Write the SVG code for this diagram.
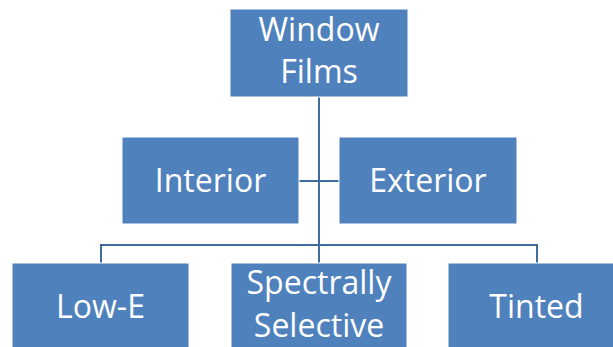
<svg xmlns="http://www.w3.org/2000/svg" width="613" height="347" viewBox="0 0 613 347">
  <style>
    .box { fill: #4F81BD; stroke: #ffffff; stroke-width: 1; }
    .lbl { fill: #ffffff; font-family: "Open Sans", "Noto Sans", sans-serif; font-size: 32px; text-anchor: middle; }
    .wire { fill: none; stroke: #3F6C9F; stroke-width: 2; }
  </style>
  <rect width="613" height="347" fill="#ffffff"/>

  <!-- connectors -->
  <g id="connectors">
    <path class="wire" d="M319 97 V263"/>
    <path class="wire" d="M299 181 H339"/>
    <path class="wire" d="M101 263 V245 H537 V263"/>
  </g>

  <g id="window-films">
    <rect class="box" x="230" y="9" width="178" height="88"/>
    <text class="lbl" x="319" y="41">Window</text>
    <text class="lbl" x="319" y="83">Films</text>
  </g>

  <g id="interior">
    <rect class="box" x="122" y="137" width="177" height="87"/>
    <text class="lbl" x="210.5" y="192">Interior</text>
  </g>

  <g id="exterior">
    <rect class="box" x="339" y="137" width="178" height="87"/>
    <text class="lbl" x="428" y="192">Exterior</text>
  </g>

  <g id="low-e">
    <rect class="box" x="12" y="263" width="177" height="88"/>
    <text class="lbl" x="100.5" y="318">Low-E</text>
  </g>

  <g id="spectrally-selective">
    <rect class="box" x="231" y="263" width="176" height="88"/>
    <text class="lbl" x="319" y="294">Spectrally</text>
    <text class="lbl" x="319" y="337">Selective</text>
  </g>

  <g id="tinted">
    <rect class="box" x="448" y="263" width="177" height="88"/>
    <text class="lbl" x="536.5" y="318">Tinted</text>
  </g>
</svg>
